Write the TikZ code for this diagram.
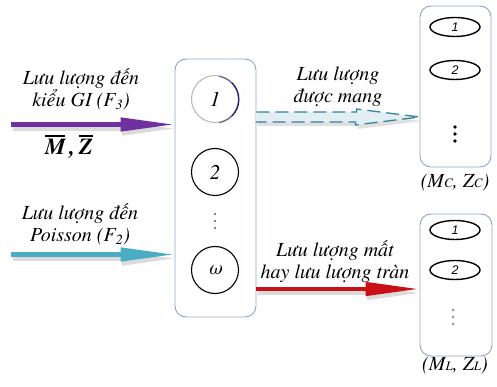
\documentclass[tikz,border=0pt]{standalone}
\usepackage{fontspec}
\setmainfont{texgyretermes}[Extension=.otf, UprightFont=*-regular, ItalicFont=*-italic,
  BoldFont=*-bold, BoldItalicFont=*-bolditalic]
\newfontfamily\tms{texgyretermes}[Extension=.otf, UprightFont=*-regular, ItalicFont=*-italic,
  BoldFont=*-bold, BoldItalicFont=*-bolditalic]
\newfontfamily\numfont{Liberation Sans}
\usetikzlibrary{arrows.meta,shapes.geometric}

\definecolor{boxline}{RGB}{140,165,200}
\definecolor{arrowpurple}{RGB}{112,48,160}
\definecolor{arrowblue}{RGB}{75,172,198}
\definecolor{arrowred}{RGB}{200,16,22}
\definecolor{dashteal}{RGB}{49,133,155}
\definecolor{dashfill}{RGB}{226,238,242}
\definecolor{ringnavy}{RGB}{30,30,110}
\definecolor{ringmid}{RGB}{95,95,150}

% letter with a bar over it (mean values)
\newcommand\barred[1]{\leavevmode\vbox{\hrule height 1.4pt\kern 2.4pt\hbox{#1}}}

\begin{document}
\begin{tikzpicture}[x=1pt,y=-1pt,
  stack/.style={draw=boxline, line width=0.9pt, rounded corners=11pt, inner sep=0pt},
  server/.style={circle, draw, line width=1.1pt, minimum size=47pt, inner sep=0pt,
    font=\tms\fontsize{21}{21}\selectfont\itshape},
  slot/.style={ellipse, draw, line width=1.4pt, minimum width=50pt, minimum height=19pt,
    inner sep=0pt, font=\numfont\fontsize{12.5}{12.5}\selectfont\itshape},
  lbl/.style={align=center, font=\tms\fontsize{20}{22}\selectfont\itshape, inner sep=0pt},
  dot/.style={circle, fill, inner sep=0pt, minimum size=2.2pt},
  flow/.style={line width=4.5pt, -{Triangle[length=54pt,width=13pt]},
    preaction={draw=black!14, line width=4.5pt, -{Triangle[length=54pt,width=13pt]},
      transform canvas={shift={(1.5pt,-4pt)}}}},
]
\useasboundingbox (0,0) rectangle (497,387);

% central group of servers
\node[stack, minimum width=81pt, minimum height=258pt] (ctr) at (215.5,188) {};
\node[server, draw=gray!55] (s1) at (215,99) {1};
\draw[ringmid, line width=1.1pt] (s1.-80) arc[start angle=-80, end angle=80, radius=23.5pt];
\draw[ringnavy, line width=1.1pt] (s1.-45) arc[start angle=-45, end angle=45, radius=23.5pt];
\node[server] (s2) at (215,172) {2};
\node[dot, black!65] (sd1) at (215,214) {};
\node[dot, black!65] (sd2) at (215,221) {};
\node[dot, black!65] (sd3) at (215,228) {};
\node[server] (sw) at (215,270) {ω};

% carried-traffic group
\node[stack, minimum width=71pt, minimum height=161pt] (car) at (455.5,86.5) {};
\node[slot] (c1) at (455,27) {1};
\node[slot] (c2) at (455,70) {2};
\node[dot, minimum size=3.6pt] (cd1) at (455,127) {};
\node[dot, minimum size=3.6pt] (cd2) at (455,134) {};
\node[dot, minimum size=3.6pt] (cd3) at (455,141) {};
\node[lbl] (carlbl) at (455,183) {(M{\fontsize{13}{13}\selectfont C}, Z{\fontsize{13}{13}\selectfont C})};

% lost / overflow traffic group
\node[stack, minimum width=72pt, minimum height=142pt] (lost) at (456,285) {};
\node[slot] (l1) at (455,230) {1};
\node[slot] (l2) at (455,270) {2};
\node[dot, black!40, minimum size=3pt] (ld1) at (453,310) {};
\node[dot, black!40, minimum size=3pt] (ld2) at (453,317) {};
\node[dot, black!40, minimum size=3pt] (ld3) at (453,324) {};
\node[lbl] (lostlbl) at (455,366) {(M{\fontsize{13}{13}\selectfont L}, Z{\fontsize{13}{13}\selectfont L})};

% arrival streams
\coordinate (inGI) at (11,124.5);
\coordinate (inPo) at (11,254.5);
\draw[flow, arrowpurple] (inGI) -- (ctr.west |- inGI);
\draw[flow, arrowblue] (inPo) -- (ctr.west |- inPo);

\node[lbl] (tGI) at (81,89) {Lưu lượng đến\\kiểu GI (F\textsubscript{3})};
\node[lbl, font=\tms\bfseries\itshape\fontsize{23}{23}\selectfont] (tMZ) at (69,147)
  {\barred{M}\,,\,\barred{Z}};
\node[lbl] (tPo) at (80,224) {Lưu lượng đến\\Poisson (F\textsubscript{2})};

% carried traffic: hollow dashed arrow
\coordinate (outC) at (ctr.east |- 0,117);
\fill[black!12, transform canvas={shift={(2pt,-4pt)}}]
  (outC) ++(0,-5) -- ++(100,0) -- ++(0,-3) -- (car.west |- outC) -- ++(-64,8) -- ++(0,-3) -- ++(-100,0) -- cycle;
\draw[dashteal, fill=dashfill, line width=1.3pt, dash pattern=on 13pt off 6pt]
  (outC) ++(0,-5) -- ++(100,0) -- ++(0,-3) -- (car.west |- outC) -- ++(-64,8) -- ++(0,-3) -- ++(-100,0);
\node[lbl] (tC) at (338,87) {Lưu lượng\\được mang};

% lost / overflow traffic
\coordinate (outL) at (ctr.east |- 0,289);
\draw[flow, arrowred] (outL) -- (lost.west |- outL);
\node[lbl] (tL) at (335,262) {Lưu lượng mất\\hay lưu lượng tràn};
\end{tikzpicture}
\end{document}
